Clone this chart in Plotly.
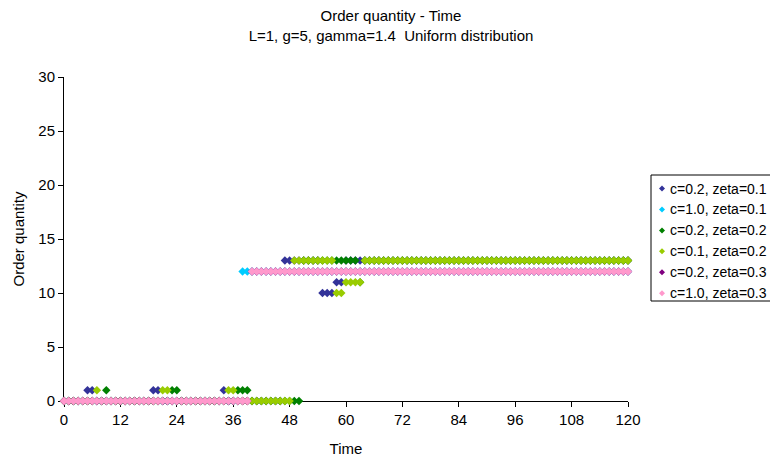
import plotly.graph_objects as go

# Time steps (x categories)
time = list(range(0, 121))

series_names = [
    "c=0.2, zeta=0.1",
    "c=1.0, zeta=0.1",
    "c=0.2, zeta=0.2",
    "c=0.1, zeta=0.2",
    "c=0.2, zeta=0.3",
    "c=1.0, zeta=0.3",
]
series_colors = ["#333399", "#00CCFF", "#008000", "#99CC00", "#800080", "#FF99CC"]

q_c02_z01 = [
    0, 0, 0, 0, 0, 1, 1, 0, 0, 0, 0, 0,
    0, 0, 0, 0, 0, 0, 0, 1, 1, 0, 0, 0,
    0, 0, 0, 0, 0, 0, 0, 0, 0, 0, 1, 0,
    0, 0, 0, 0, 0, 0, 0, 0, 0, 0, 0, 13,
    13, 13, 13, 13, 13, 13, 13, 10, 10, 10, 11, 11,
    13, 13, 13, 13, 13, 13, 13, 13, 13, 13, 13, 13,
    13, 13, 13, 13, 13, 13, 13, 13, 13, 13, 13, 13,
    13, 13, 13, 13, 13, 13, 13, 13, 13, 13, 13, 13,
    13, 13, 13, 13, 13, 13, 13, 13, 13, 13, 13, 13,
    13, 13, 13, 13, 13, 13, 13, 13, 13, 13, 13, 13,
    13,
]
q_c10_z01 = [
    0, 0, 0, 0, 0, 0, 0, 0, 0, 0, 0, 0,
    0, 0, 0, 0, 0, 0, 0, 0, 0, 0, 0, 0,
    0, 0, 0, 0, 0, 0, 0, 0, 0, 0, 0, 0,
    0, 0, 12, 12, 12, 12, 12, 12, 12, 12, 12, 12,
    12, 12, 12, 12, 12, 12, 12, 12, 12, 12, 12, 12,
    12, 12, 12, 12, 12, 12, 12, 12, 12, 12, 12, 12,
    12, 12, 12, 12, 12, 12, 12, 12, 12, 12, 12, 12,
    12, 12, 12, 12, 12, 12, 12, 12, 12, 12, 12, 12,
    12, 12, 12, 12, 12, 12, 12, 12, 12, 12, 12, 12,
    12, 12, 12, 12, 12, 12, 12, 12, 12, 12, 12, 12,
    12,
]
q_c02_z02 = [
    0, 0, 0, 0, 0, 0, 0, 0, 0, 1, 0, 0,
    0, 0, 0, 0, 0, 0, 0, 0, 0, 0, 0, 1,
    1, 0, 0, 0, 0, 0, 0, 0, 0, 0, 0, 0,
    0, 1, 1, 1, 0, 0, 0, 0, 0, 0, 0, 0,
    0, 0, 0, 13, 13, 13, 13, 13, 13, 13, 13, 13,
    13, 13, 13, 11, 13, 13, 13, 13, 13, 13, 13, 13,
    13, 13, 13, 13, 13, 13, 13, 13, 13, 13, 13, 13,
    13, 13, 13, 13, 13, 13, 13, 13, 13, 13, 13, 13,
    13, 13, 13, 13, 13, 13, 13, 13, 13, 13, 13, 13,
    13, 13, 13, 13, 13, 13, 13, 13, 13, 13, 13, 13,
    13,
]
q_c01_z02 = [
    0, 0, 0, 0, 0, 0, 0, 1, 0, 0, 0, 0,
    0, 0, 0, 0, 0, 0, 0, 0, 0, 1, 1, 0,
    0, 0, 0, 0, 0, 0, 0, 0, 0, 0, 0, 1,
    1, 0, 0, 0, 0, 0, 0, 0, 0, 0, 0, 0,
    0, 13, 13, 13, 13, 13, 13, 13, 13, 13, 10, 10,
    11, 11, 11, 11, 13, 13, 13, 13, 13, 13, 13, 13,
    13, 13, 13, 13, 13, 13, 13, 13, 13, 13, 13, 13,
    13, 13, 13, 13, 13, 13, 13, 13, 13, 13, 13, 13,
    13, 13, 13, 13, 13, 13, 13, 13, 13, 13, 13, 13,
    13, 13, 13, 13, 13, 13, 13, 13, 13, 13, 13, 13,
    13,
]
q_c02_z03 = [
    0, 0, 0, 0, 0, 0, 0, 0, 0, 0, 0, 0,
    0, 0, 0, 0, 0, 0, 0, 0, 0, 0, 0, 0,
    0, 0, 0, 0, 0, 0, 0, 0, 0, 0, 0, 0,
    0, 0, 0, 0, 12, 12, 12, 12, 12, 12, 12, 12,
    12, 12, 12, 12, 12, 12, 12, 12, 12, 12, 12, 12,
    12, 12, 12, 12, 12, 12, 12, 12, 12, 12, 12, 12,
    12, 12, 12, 12, 12, 12, 12, 12, 12, 12, 12, 12,
    12, 12, 12, 12, 12, 12, 12, 12, 12, 12, 12, 12,
    12, 12, 12, 12, 12, 12, 12, 12, 12, 12, 12, 12,
    12, 12, 12, 12, 12, 12, 12, 12, 12, 12, 12, 12,
    12,
]
q_c10_z03 = [
    0, 0, 0, 0, 0, 0, 0, 0, 0, 0, 0, 0,
    0, 0, 0, 0, 0, 0, 0, 0, 0, 0, 0, 0,
    0, 0, 0, 0, 0, 0, 0, 0, 0, 0, 0, 0,
    0, 0, 0, 0, 12, 12, 12, 12, 12, 12, 12, 12,
    12, 12, 12, 12, 12, 12, 12, 12, 12, 12, 12, 12,
    12, 12, 12, 12, 12, 12, 12, 12, 12, 12, 12, 12,
    12, 12, 12, 12, 12, 12, 12, 12, 12, 12, 12, 12,
    12, 12, 12, 12, 12, 12, 12, 12, 12, 12, 12, 12,
    12, 12, 12, 12, 12, 12, 12, 12, 12, 12, 12, 12,
    12, 12, 12, 12, 12, 12, 12, 12, 12, 12, 12, 12,
    12,
]

series_values = [q_c02_z01, q_c10_z01, q_c02_z02, q_c01_z02, q_c02_z03, q_c10_z03]

x_tick_vals = [0, 12, 24, 36, 48, 60, 72, 84, 96, 108, 120]
y_tick_vals = [0, 5, 10, 15, 20, 25, 30]

FONT = "Liberation Sans, Arial, sans-serif"
FS = 15
LEG_FS = 14

# Figure geometry (page body adds an 8px offset)
W, H = 770, 453
ML, MT = 56, 69
PW, PH = 564, 324
MR = W - ML - PW
MB = H - MT - PH


def px_x(p):
    return (p - ML) / PW


def px_y(p):
    return (MT + PH - p) / PH


fig = go.Figure()
for name, vals, col in zip(series_names, series_values, series_colors):
    fig.add_trace(go.Scatter(
        x=time, y=vals, name=name, mode="markers",
        marker=dict(symbol="diamond", size=6.5, color=col, line=dict(width=0)),
        cliponaxis=False, showlegend=False,
    ))

# Legend drawn as a boxed list (matches the original's compact layout)
LEG_L, LEG_R, LEG_T, LEG_B = 643, 767, 167, 293
ROW0, ROW_H = 180.5, 20.95
MARK_X, TEXT_X, D = 654, 661, 3

shapes = [dict(type="rect", xref="paper", yref="paper",
               x0=px_x(LEG_L), x1=px_x(LEG_R), y0=px_y(LEG_B), y1=px_y(LEG_T),
               line=dict(color="black", width=1), fillcolor="white", layer="above")]
annotations = []
for i, (name, col) in enumerate(zip(series_names, series_colors)):
    cy = ROW0 + ROW_H * i
    path = (f"M {px_x(MARK_X - D)} {px_y(cy)} L {px_x(MARK_X)} {px_y(cy - D)} "
            f"L {px_x(MARK_X + D)} {px_y(cy)} L {px_x(MARK_X)} {px_y(cy + D)} Z")
    shapes.append(dict(type="path", xref="paper", yref="paper", path=path,
                       fillcolor=col, line=dict(width=0), layer="above"))
    annotations.append(dict(text=name, xref="paper", yref="paper",
                            x=px_x(TEXT_X), y=px_y(cy), xanchor="left", yanchor="middle",
                            showarrow=False, borderpad=0,
                            font=dict(family=FONT, size=LEG_FS, color="black")))

fig.update_layout(
    width=W, height=H,
    margin=dict(l=ML, r=MR, t=MT, b=MB, autoexpand=False),
    paper_bgcolor="white", plot_bgcolor="white",
    font=dict(family=FONT, size=FS, color="black"),
    showlegend=False,
    title=dict(
        text="Order quantity - Time<br>L=1, g=5, gamma=1.4  Uniform distribution",
        x=383 / W, xref="container", xanchor="center",
        y=1 - 13 / H, yref="container", yanchor="top",
        font=dict(family=FONT, size=FS, color="black"),
    ),
    xaxis=dict(
        range=[0, 120], tickmode="array", tickvals=x_tick_vals,
        ticks="outside", ticklen=5, tickcolor="black",
        showline=True, linecolor="black", linewidth=1,
        showgrid=False, zeroline=False, layer="below traces",
        title=dict(text="Time", standoff=16, font=dict(size=FS)),
        tickfont=dict(size=FS), automargin=False,
    ),
    yaxis=dict(
        range=[0, 30], tickmode="array", tickvals=y_tick_vals,
        ticks="outside", ticklen=5, tickcolor="black",
        showline=True, linecolor="black", linewidth=1,
        showgrid=False, zeroline=False, layer="below traces",
        title=dict(text="Order quantity", standoff=10, font=dict(size=FS)),
        tickfont=dict(size=FS), automargin=False,
    ),
    shapes=shapes,
    annotations=annotations,
)

fig.write_html("out.html")
